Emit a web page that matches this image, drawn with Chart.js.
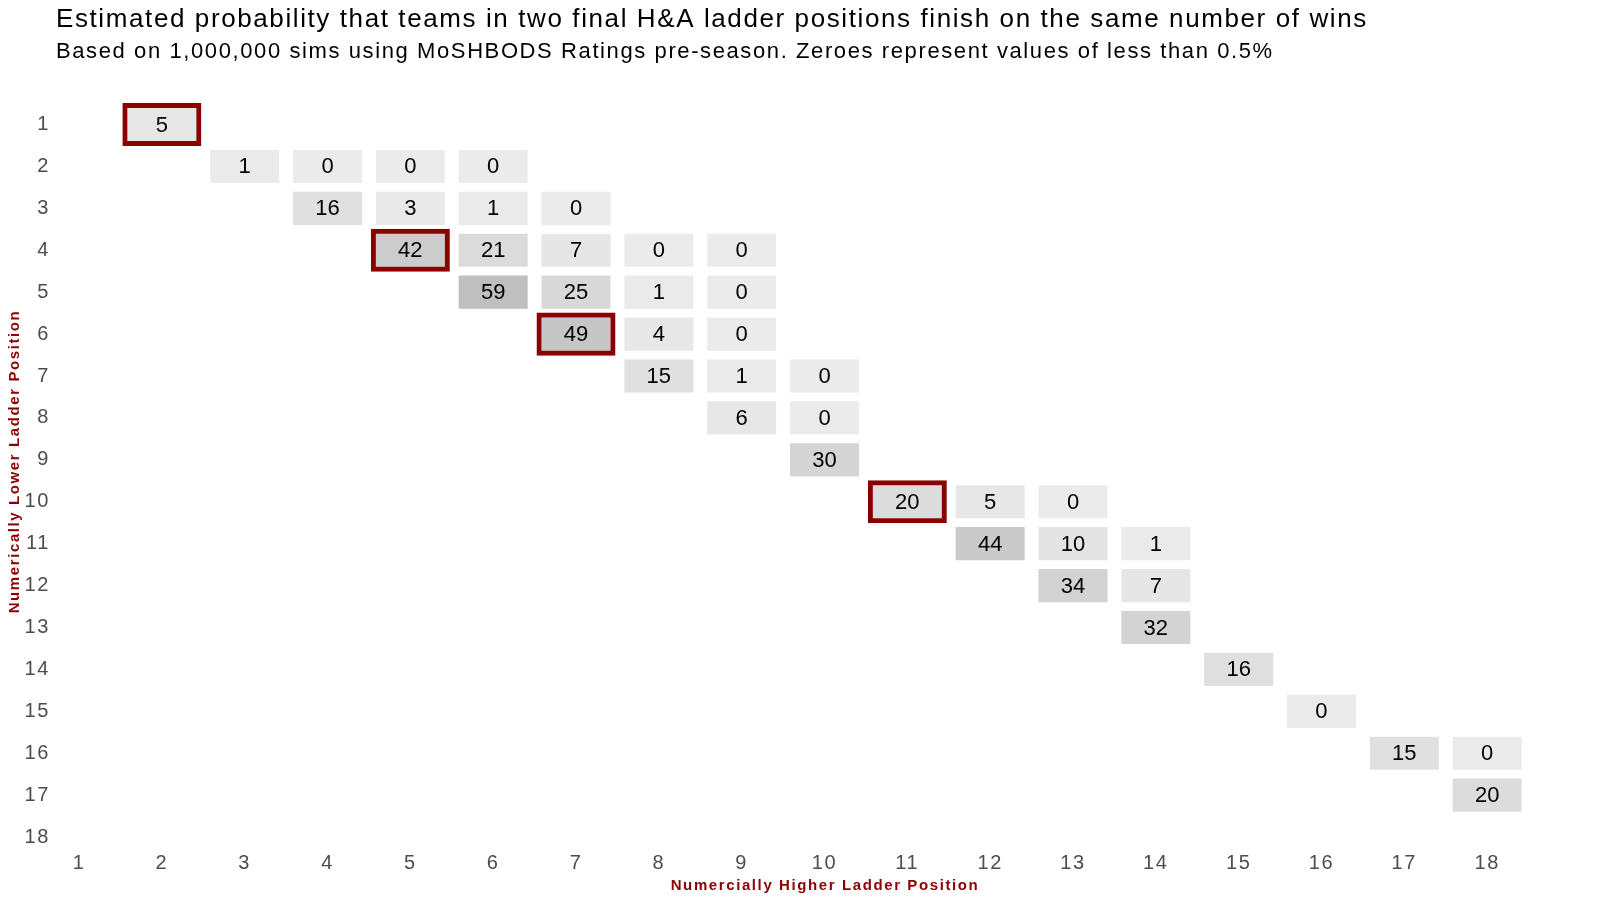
<!DOCTYPE html>
<html>
<head>
<meta charset="utf-8">
<script src="https://cdn.jsdelivr.net/npm/chart.js@4.4.1/dist/chart.umd.min.js"></script>
<style>
  html, body { margin: 0; padding: 0; background: #fff; }
  #wrap { width: 1600px; height: 900px; }
</style>
</head>
<body>
<div id="wrap"><canvas id="myChart" width="1600" height="900"></canvas></div>
<script>
// ladder positions used as ticks on both axes
const positions = [1, 2, 3, 4, 5, 6, 7, 8, 9, 10, 11, 12, 13, 14, 15, 16, 17, 18];

// one entry per tile: higher position (x), lower position (y), estimated probability (%)
const cellHigher = [2, 3, 4, 5, 6, 4, 5, 6, 7, 5, 6, 7, 8, 9, 6, 7, 8, 9, 7, 8, 9, 8, 9, 10, 9, 10, 10, 11, 12, 13, 12, 13, 14, 13, 14, 14, 15, 16, 17, 18, 18];
const cellLower  = [1, 2, 2, 2, 2, 3, 3, 3, 3, 4, 4, 4, 4, 4, 5, 5, 5, 5, 6, 6, 6, 7, 7, 7, 8, 8, 9, 10, 10, 10, 11, 11, 11, 12, 12, 13, 14, 15, 16, 16, 17];
const cellPct    = [5, 1, 0, 0, 0, 16, 3, 1, 0, 42, 21, 7, 0, 0, 59, 25, 1, 0, 49, 4, 0, 15, 1, 0, 6, 0, 30, 20, 5, 0, 44, 10, 1, 34, 7, 32, 16, 0, 15, 0, 20];

// tiles outlined in red
const highlightHigher = [2, 5, 7, 11];
const highlightLower  = [1, 4, 6, 10];

const titleText = 'Estimated probability that teams in two final H&A ladder positions finish on the same number of wins';
const subtitleText = 'Based on 1,000,000 sims using MoSHBODS Ratings pre-season. Zeroes represent values of less than 0.5%';

const darkRed = '#8B0000';
const tickGrey = '#4d4d4d';
const fontName = '"Liberation Sans", Arial, sans-serif';

const TILE_H = 0.395;   // half height of a tile in row units
const BOX_H = 0.514;    // half height of the highlight box

function greyFor(v) {
    const g = Math.round(235 - 0.75 * v);
    return `rgb(${g},${g},${g})`;
}

const cells = cellHigher.map((x, i) => ({
    x: x,
    y: [cellLower[i] - TILE_H, cellLower[i] + TILE_H],
    pct: cellPct[i]
}));

const boxes = highlightHigher.map((x, i) => ({
    x: x,
    y: [highlightLower[i] - BOX_H, highlightLower[i] + BOX_H]
}));

// the original text is set a little loose, so widen the spacing for titles/axes
const looseText = {
    id: 'looseText',
    beforeDraw(chart) {
        chart.ctx.letterSpacing = '1.6px';
    }
};

// writes the percentage in the middle of each tile
const tileLabels = {
    id: 'tileLabels',
    afterDatasetsDraw(chart) {
        const ctx = chart.ctx;
        const meta = chart.getDatasetMeta(0);
        ctx.save();
        ctx.letterSpacing = '0px';
        ctx.font = `22px ${fontName}`;
        ctx.fillStyle = '#000';
        ctx.textAlign = 'center';
        ctx.textBaseline = 'middle';
        meta.data.forEach((bar, i) => {
            const cy = (bar.y + bar.base) / 2;
            ctx.fillText(String(cells[i].pct), bar.x, cy + 1);
        });
        ctx.restore();
    }
};

function graficar(ctx) {
    return new Chart(ctx, {
        type: 'bar',
        data: {
            datasets: [{
                label: 'tiles',
                data: cells,
                backgroundColor: c => greyFor(c.raw ? c.raw.pct : 0),
                borderWidth: 0,
                borderSkipped: false,
                inflateAmount: 0,
                barThickness: 69,
                grouped: false,
                order: 2
            }, {
                label: 'highlight',
                data: boxes,
                backgroundColor: 'rgba(0,0,0,0)',
                borderColor: darkRed,
                borderWidth: 5,
                borderSkipped: false,
                inflateAmount: 0,
                barThickness: 79,
                grouped: false,
                order: 1
            }]
        },
        options: {
            responsive: false,
            animation: false,
            devicePixelRatio: 1,
            layout: { padding: { left: 0, right: 6, top: 0, bottom: 0 } },
            plugins: {
                legend: { display: false },
                tooltip: { enabled: false },
                title: {
                    display: true,
                    text: titleText,
                    align: 'start',
                    fullSize: false,
                    color: '#000',
                    font: { family: fontName, size: 26, weight: 'normal' },
                    padding: { top: 4, bottom: 0 }
                },
                subtitle: {
                    display: true,
                    text: subtitleText,
                    align: 'start',
                    fullSize: false,
                    color: '#000',
                    font: { family: fontName, size: 22, weight: 'normal' },
                    padding: { top: 3.5, bottom: 7.4 }
                }
            },
            scales: {
                x: {
                    type: 'linear',
                    offset: false,
                    min: 0.722,
                    max: 19.29,
                    grid: { display: false, drawTicks: false },
                    border: { display: false },
                    afterBuildTicks: s => { s.ticks = positions.map(v => ({ value: v })); },
                    afterFit: s => { s.height = 49.5; },
                    ticks: {
                        color: tickGrey,
                        font: { family: fontName, size: 20 },
                        padding: 1,
                        maxRotation: 0,
                        autoSkip: false
                    },
                    title: {
                        display: true,
                        text: 'Numercially Higher Ladder Position',
                        color: darkRed,
                        font: { family: fontName, size: 15, weight: 'bold' },
                        padding: { top: 0, bottom: 5 }
                    }
                },
                y: {
                    type: 'linear',
                    min: -0.241,
                    max: 18.32,
                    reverse: true,
                    grid: { display: false, drawTicks: false },
                    border: { display: false },
                    afterBuildTicks: s => { s.ticks = positions.map(v => ({ value: v })); },
                    afterFit: s => { s.width = 56; },
                    ticks: {
                        color: tickGrey,
                        font: { family: fontName, size: 20 },
                        padding: 6,
                        autoSkip: false
                    },
                    title: {
                        display: true,
                        text: 'Numerically Lower Ladder Position',
                        color: darkRed,
                        font: { family: fontName, size: 15, weight: 'bold' },
                        padding: { top: 6, bottom: 0 }
                    }
                }
            }
        },
        plugins: [looseText, tileLabels]
    });
}

function getChart() {
    const ctx = document.getElementById('myChart').getContext('2d');
    graficar(ctx);
}
getChart();
</script>
</body>
</html>
